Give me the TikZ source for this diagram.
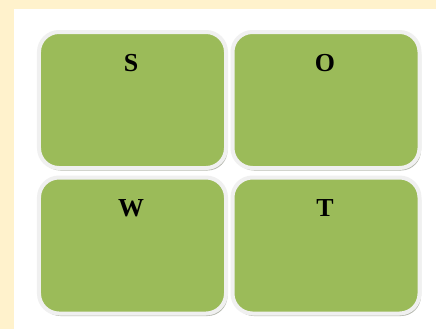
\documentclass[tikz,border=0pt]{standalone}
\usepackage{fontspec}
\setmainfont{Liberation Serif}
\usetikzlibrary{shadows}
\definecolor{cream}{HTML}{FFF2CC}
\definecolor{olive}{HTML}{9BBB59}
\definecolor{rim}{HTML}{F0F0F0}
\definecolor{shade}{HTML}{B5B8AE}
\tikzset{
  swotbox/.style={draw=rim, line width=4bp, fill=olive, rounded corners=20bp,
    minimum width=187bp, minimum height=136bp, inner sep=0pt,
    drop shadow={shadow xshift=1.5bp, shadow yshift=-2.5bp, fill=shade, opacity=1}},
  swottext/.style={font=\fontsize{26}{28}\selectfont\bfseries, inner sep=0pt}
}
\begin{document}
\begin{tikzpicture}[x=1bp,y=-1bp]
  \useasboundingbox (0,0) rectangle (436,329);
  \fill[cream] (0,0) rectangle (436,329);
  \fill[white] (14,9) rectangle (436,329);
  \node[swotbox] (s) at (132.5,100) {};
  \node[swotbox] (o) at (326,100) {};
  \node[swotbox] (w) at (132.5,245.5) {};
  \node[swotbox] (t) at (326,245.5) {};
  \node[swottext] (sl) at (131,63) {S};
  \node[swottext] (ol) at (325,63) {O};
  \node[swottext] (wl) at (131,208) {W};
  \node[swottext] (tl) at (325,208) {T};
\end{tikzpicture}
\end{document}
